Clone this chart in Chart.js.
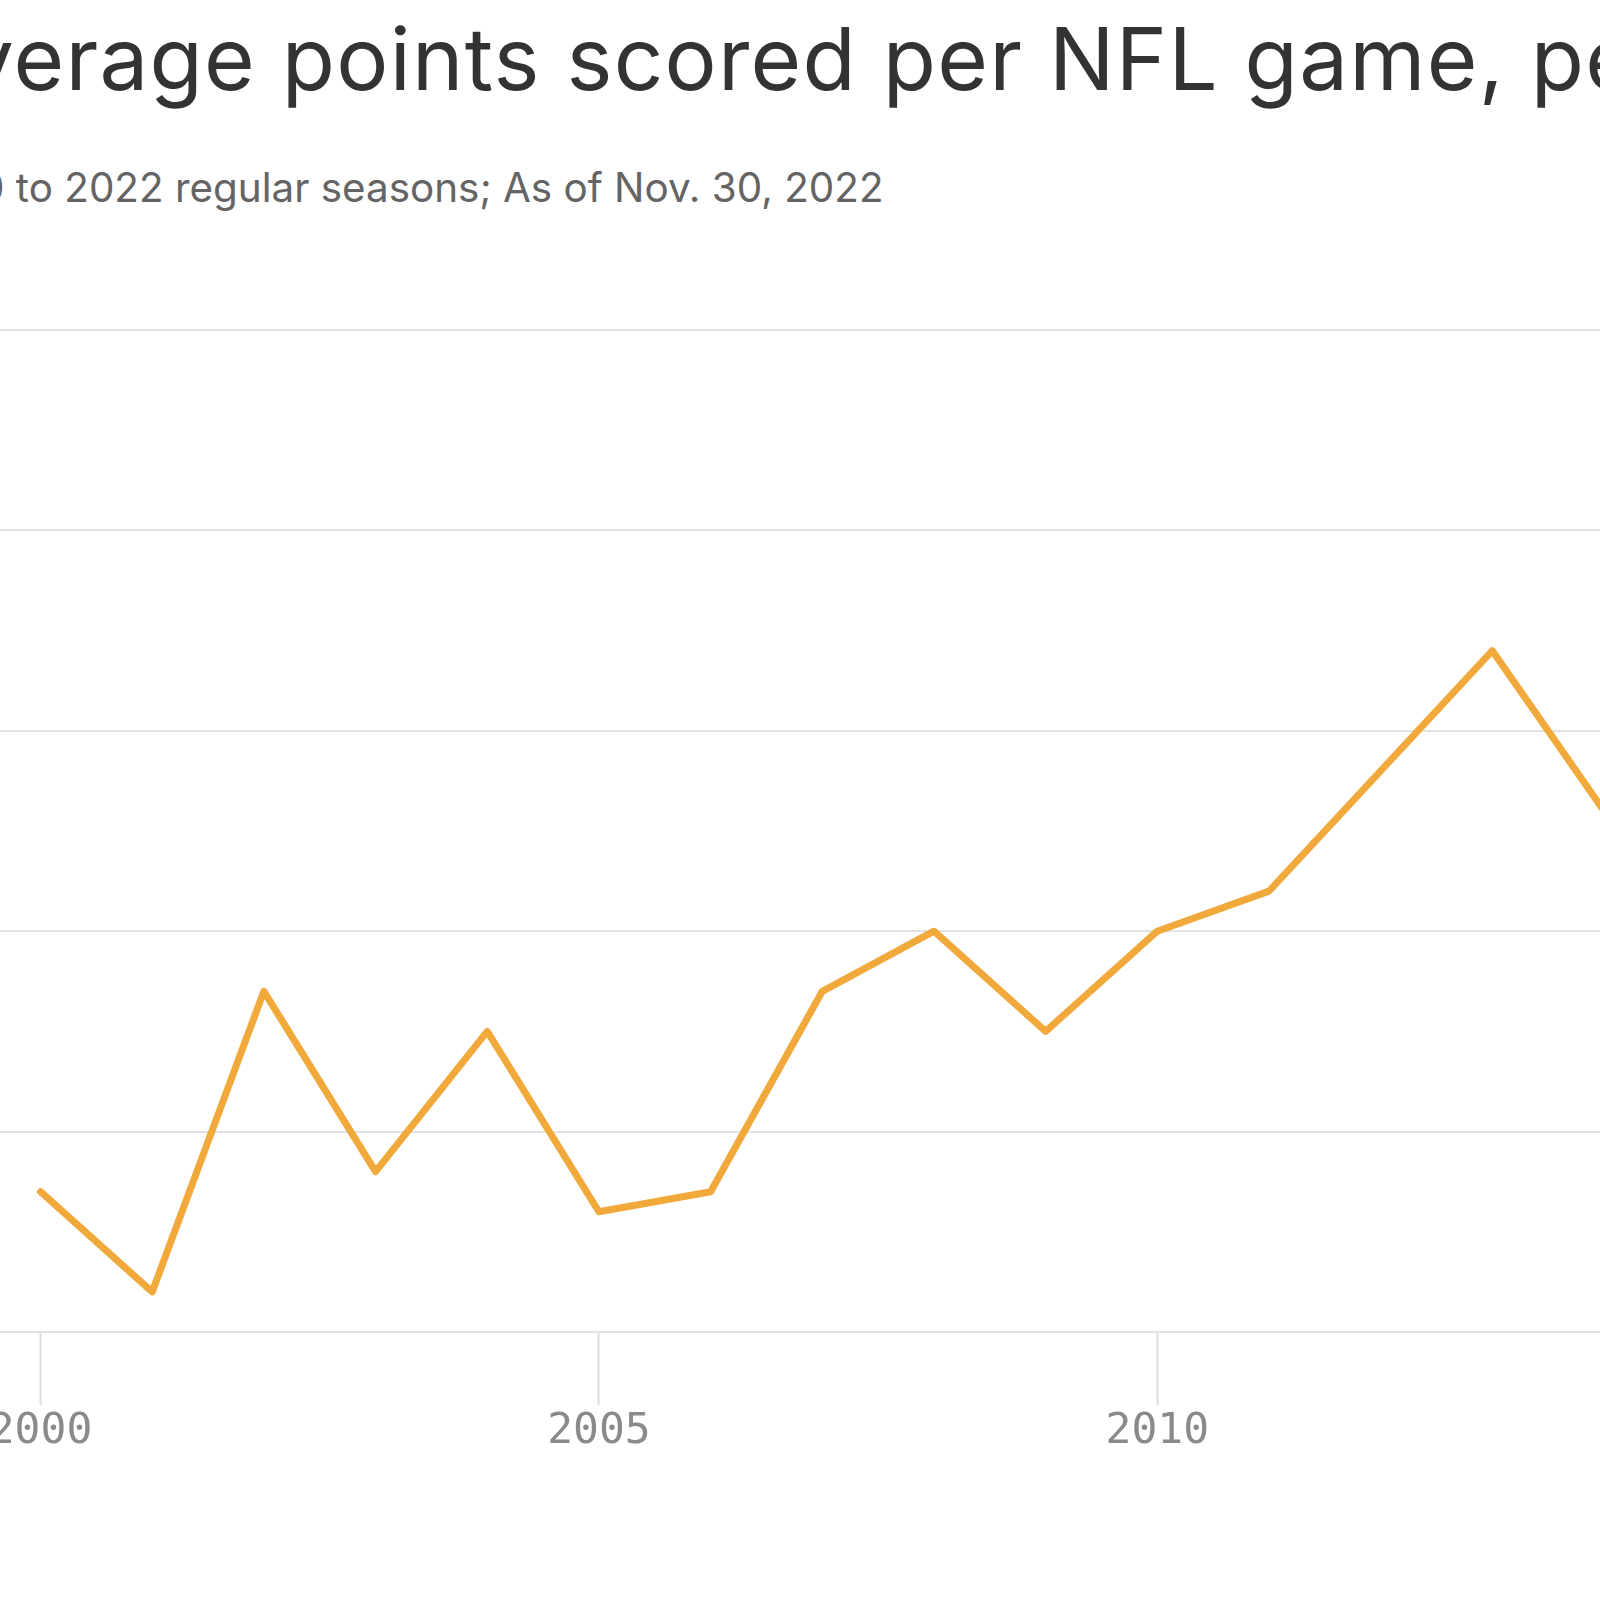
<!DOCTYPE html>
<html><head><meta charset="utf-8">
<script src="https://cdn.jsdelivr.net/npm/chart.js@4"></script>
<style>
html,body{margin:0;padding:0;width:1600px;height:1600px;overflow:hidden;background:#fff;}
#title{position:absolute;top:15px;left:-60px;font-family:Inter,sans-serif;font-size:87px;line-height:87px;letter-spacing:1.25px;color:#333333;white-space:nowrap;}
#subtitle{position:absolute;top:168px;left:-60px;font-family:Inter,sans-serif;font-size:40.4px;line-height:40px;color:#646464;white-space:nowrap;}
#wrap{position:absolute;left:-60px;top:300px;width:2700px;height:1300px;}
</style></head>
<body>
<div id="title"><span id="tp">Average points scored per </span>NFL game, per team</div>
<div id="subtitle"><span id="sp">2000 to 2022 </span>regular seasons; As of Nov. 30, 2022</div>
<div id="wrap"><canvas id="c"></canvas></div>
<script>
const years = [2000,2001,2002,2003,2004,2005,2006,2007,2008,2009,2010,2011,2012,2013,2014,2015,2016,2017,2018,2019,2020,2021,2022];
const pointsPerGame = [20.7,20.2,21.7,20.8,21.5,20.6,20.7,21.7,22.0,21.5,22.0,22.2,22.8,23.4,22.6,22.8,22.8,21.7,23.3,22.8,24.8,23.0,21.9];
const xTickYears = [2000,2005,2010,2015,2020];
const yTickValues = [20,21,22,23,24,25];

function placeText(){
  const t=document.getElementById('title'), tp=document.getElementById('tp');
  t.style.left=(1049 - tp.getBoundingClientRect().width)+'px';
  const s=document.getElementById('subtitle'), sp=document.getElementById('sp');
  s.style.left=(175 - sp.getBoundingClientRect().width)+'px';
}
placeText();

new Chart(document.getElementById('c'), {
  type:'line',
  data:{datasets:[{
    data: years.map((y,i)=>({x:y,y:pointsPerGame[i]})),
    borderColor:'#F2A93B', borderWidth:7, borderJoinStyle:'round', borderCapStyle:'round',
    pointRadius:0, tension:0, fill:false
  }]},
  options:{
    responsive:true, maintainAspectRatio:false, animation:false, devicePixelRatio:1,
    layout:{padding:{top:30,left:0,right:0,bottom:0}},
    plugins:{legend:{display:false},tooltip:{enabled:false}},
    scales:{
      x:{type:'linear', min:1999.1, max:2023.276,
        afterBuildTicks:s=>{s.ticks=xTickYears.map(v=>({value:v}));},
        afterFit:s=>{s.height=268;},
        grid:{drawOnChartArea:false, drawTicks:true, tickLength:73, tickWidth:2, tickColor:'#dcdcdc'},
        border:{display:false},
        ticks:{padding:1, color:'#8a8a8a', font:{family:'DejaVu Sans Mono', size:43}, callback:v=>String(v), maxRotation:0, autoSkip:false}
      },
      y:{min:20, max:25,
        afterBuildTicks:s=>{s.ticks=yTickValues.map(v=>({value:v}));},
        afterFit:s=>{s.width=0;},
        ticks:{display:false},
        grid:{color:'#e2e2e2', lineWidth:2, drawTicks:false},
        border:{display:false}
      }
    }
  }
});
</script>
</body></html>
